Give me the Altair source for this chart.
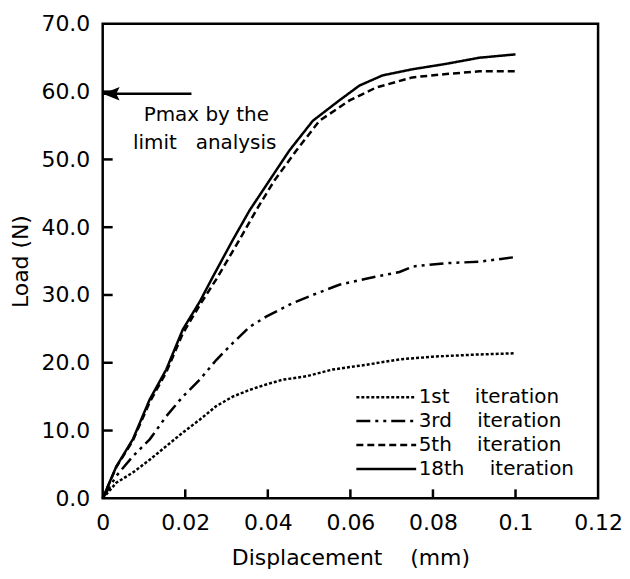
import altair as alt
import pandas as pd

# ---- data ----
x_1st = [0, 0.0033, 0.0073, 0.0114, 0.0154, 0.0194, 0.0235, 0.0275, 0.0315, 0.0356,
         0.0396, 0.0436, 0.0493, 0.0557, 0.0638, 0.0719, 0.08, 0.09, 0.1]
y_1st = [0, 2.3, 3.8, 5.7, 7.7, 9.7, 11.6, 13.6, 15.0, 16.0,
         16.8, 17.5, 18.0, 19.0, 19.7, 20.5, 20.9, 21.2, 21.4]

x_3rd = [0, 0.0033, 0.0073, 0.0114, 0.0154, 0.0194, 0.0235, 0.0275, 0.0315, 0.0356,
         0.0396, 0.046, 0.0517, 0.0573, 0.0638, 0.0719, 0.0751, 0.0832, 0.0912, 0.1]
y_3rd = [0, 3.3, 6.2, 8.7, 12.1, 15.0, 17.5, 20.4, 22.9, 25.3,
         26.8, 28.8, 30.2, 31.5, 32.4, 33.4, 34.2, 34.7, 34.9, 35.6]

x_5th = [0, 0.0033, 0.0073, 0.0114, 0.0154, 0.0194, 0.0235, 0.0275, 0.0331, 0.0372,
         0.0416, 0.0469, 0.0525, 0.0598, 0.0662, 0.075, 0.0832, 0.0912, 0.1]
y_5th = [0, 4.6, 8.5, 14.2, 18.6, 24.3, 28.5, 32.3, 38.1, 42.5,
         46.9, 51.3, 55.7, 58.7, 60.6, 62.1, 62.6, 63.0, 63.0]

x_18th = [0, 0.0033, 0.0073, 0.0114, 0.0154, 0.0194, 0.0235, 0.0267, 0.0315, 0.0356,
          0.0404, 0.0452, 0.0509, 0.0573, 0.0622, 0.0678, 0.075, 0.0832, 0.0912, 0.1]
y_18th = [0, 4.7, 8.7, 14.6, 19.0, 24.9, 29.0, 32.7, 38.1, 42.5,
          46.9, 51.3, 55.7, 58.7, 60.9, 62.4, 63.3, 64.1, 65.0, 65.5]

NB = "\u00a0"
series_names = ["1st" + NB * 4 + "iteration", "3rd" + NB * 4 + "iteration",
                "5th" + NB * 4 + "iteration", "18th" + NB * 4 + "iteration"]
series_dash = [[3, 2], [14, 5, 3, 5, 3, 5], [7, 4], [1, 0]]

x_tick_labels = [0, 0.02, 0.04, 0.06, 0.08, 0.1, 0.12]
y_tick_labels = [0, 10, 20, 30, 40, 50, 60, 70]
x_inner_ticks = [0.02, 0.04, 0.06, 0.08, 0.1]
y_inner_ticks = [10, 20, 30, 40, 50, 60]

arrow_load = [59.7]
arrow_start = [0.0]
arrow_end = [0.0215]
note_lines = ["Pmax by the", "limit" + NB * 3 + "analysis"]
note_x = [0.0251, 0.0247]
note_y = [56.5, 52.4]

# ---- build table ----
rows = []
for name, xs, ys in zip(series_names, [x_1st, x_3rd, x_5th, x_18th],
                        [y_1st, y_3rd, y_5th, y_18th]):
    for a, b in zip(xs, ys):
        rows.append({"disp": a, "load": b, "series": name})
df = pd.DataFrame(rows)

W, H = 497, 476
FONT = "DejaVu Sans"
xscale = alt.Scale(domain=[0, 0.12], nice=False, zero=False)
yscale = alt.Scale(domain=[0, 70], nice=False, zero=False)

x_axis = alt.Axis(values=x_tick_labels, format="~g", grid=False, ticks=False, tickSize=0,
                  domain=False, labelFont=FONT, labelFontSize=22, labelColor="black",
                  labelPadding=14, labelFlush=False, labelOverlap=False,
                  title="Displacement" + NB * 4 + "(mm)", titleFont=FONT, titleFontSize=22,
                  titleFontWeight="normal", titleColor="black", titleX=W / 2, titleY=59,
                  titleAlign="center", titleBaseline="middle")
y_axis = alt.Axis(values=y_tick_labels, format=".1f", grid=False, ticks=False, tickSize=0,
                  domain=False, labelFont=FONT, labelFontSize=22, labelColor="black",
                  labelPadding=13, labelFlush=False, labelOverlap=False,
                  title="Load (N)", titleFont=FONT, titleFontSize=22, titleFontWeight="normal",
                  titleColor="black", titleAngle=270, titleX=-82, titleY=H / 2,
                  titleAlign="center", titleBaseline="middle")

lines = alt.Chart(df).mark_line(strokeWidth=2.5, color="black").encode(
    x=alt.X("disp:Q", scale=xscale, axis=x_axis),
    y=alt.Y("load:Q", scale=yscale, axis=y_axis),
    strokeDash=alt.StrokeDash(
        "series:N", sort=series_names,
        scale=alt.Scale(domain=series_names, range=series_dash),
        legend=alt.Legend(title=None, orient="none", legendX=273, legendY=363,
                          symbolType="M-3,0H3", symbolSize=400, symbolStrokeWidth=2.5,
                          symbolStrokeColor="black", symbolFillColor="transparent",
                          labelFont=FONT, labelFontSize=20,
                          labelColor="black", labelOffset=21, rowPadding=2, padding=0),
    ),
)

ytk = alt.Chart(pd.DataFrame({"load": y_inner_ticks})).mark_rule(
    color="black", strokeWidth=2.5).encode(
    y=alt.Y("load:Q", scale=yscale), x=alt.value(0), x2=alt.value(10))

xtk = alt.Chart(pd.DataFrame({"disp": x_inner_ticks})).mark_rule(
    color="black", strokeWidth=2.5).encode(
    x=alt.X("disp:Q", scale=xscale), y=alt.value(H), y2=alt.value(H - 9))

arrow_df = pd.DataFrame({"disp": arrow_start, "disp2": arrow_end, "load": arrow_load})
arrow_line = alt.Chart(arrow_df).mark_rule(color="black", strokeWidth=2.5).encode(
    x=alt.X("disp:Q", scale=xscale), x2="disp2:Q", y=alt.Y("load:Q", scale=yscale))
arrow_head = alt.Chart(arrow_df).mark_point(
    shape="M0,0 L2,-0.8 L1.6,0 L2,0.8 Z", filled=True, color="black", opacity=1,
    size=289).encode(
    x=alt.X("disp:Q", scale=xscale), y=alt.Y("load:Q", scale=yscale))

note_df = pd.DataFrame({"disp": note_x, "load": note_y, "txt": note_lines})
note = alt.Chart(note_df).mark_text(font=FONT, fontSize=20, color="black",
                                    align="center", baseline="middle").encode(
    x=alt.X("disp:Q", scale=xscale), y=alt.Y("load:Q", scale=yscale), text="txt:N")

chart = alt.layer(lines, ytk, xtk, arrow_line, arrow_head, note).properties(
    width=W, height=H,
    background="white",
    autosize=alt.AutoSizeParams(type="none"),
    padding={"left": 95, "top": 15, "right": 24, "bottom": 70},
).configure_view(stroke="black", strokeWidth=2.5)

chart.save("out.html", embed_options={"renderer": "svg", "actions": False})
